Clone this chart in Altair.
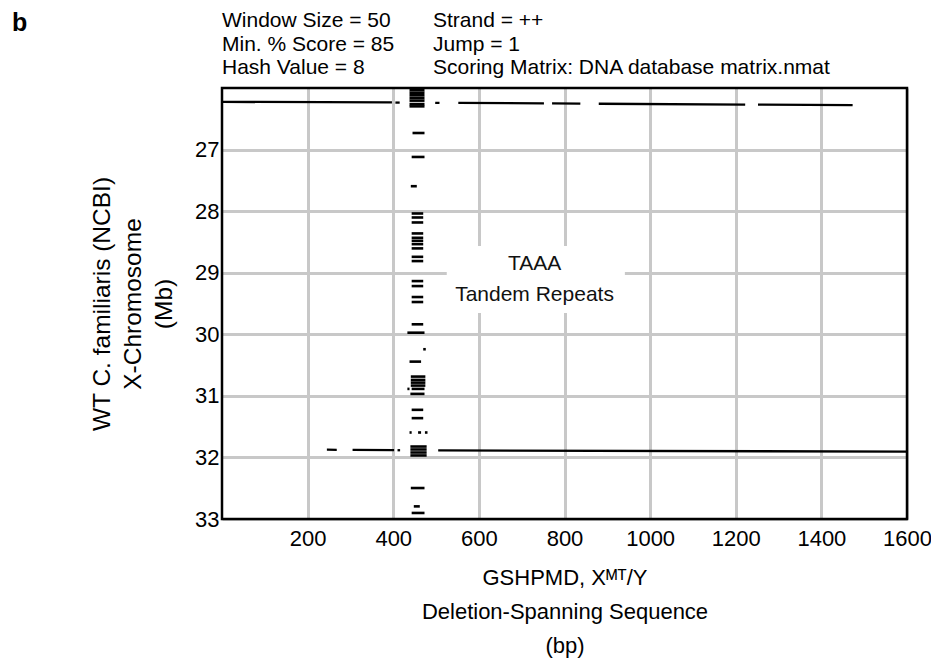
import altair as alt
import pandas as pd

FONT = "Liberation Sans"

# ---------------- data ----------------
# upper near-horizontal match line (bp start/end, Mb start/end)
top_x1 = [0, 405, 498, 552, 771, 880, 1252]
top_x2 = [397, 415, 508, 752, 837, 1222, 1473]
top_y1 = [26.225, 26.237, 26.240, 26.240, 26.251, 26.256, 26.271]
top_y2 = [26.235, 26.237, 26.242, 26.250, 26.254, 26.270, 26.278]

# lower near-horizontal match line
bot_x1 = [245, 305, 410, 505]
bot_x2 = [268, 402, 416, 1600]
bot_y1 = [31.874, 31.878, 31.883, 31.887]
bot_y2 = [31.876, 31.882, 31.883, 31.905]

# TAAA tandem-repeat dashes (vertical strip)
strip_y = [26.034, 26.076, 26.119, 26.163, 26.205, 26.261, 26.298,
           26.731, 27.120, 27.595,
           28.038, 28.103, 28.184, 28.362, 28.433, 28.482, 28.536, 28.605, 28.742, 28.811,
           29.136, 29.217, 29.395, 29.476, 29.838, 29.974,
           30.243, 30.444, 30.687, 30.741, 30.785, 30.833, 30.887, 30.887, 30.968,
           31.227, 31.362, 31.595, 31.595, 31.595,
           31.823, 31.871, 31.920, 31.968,
           32.497, 32.795, 32.902]
strip_x1 = [438, 438, 438, 438, 438, 438, 438,
            445, 443, 441,
            443, 443, 443, 443, 443, 443, 443, 443, 443, 443,
            443, 443, 443, 443, 443, 433,
            470, 438, 441, 441, 441, 441, 443, 433, 440,
            443, 443, 438, 458, 474,
            440, 440, 440, 440,
            441, 448, 443]
strip_x2 = [473, 473, 473, 473, 473, 473, 473,
            473, 473, 455,
            470, 470, 470, 470, 470, 470, 470, 470, 470, 470,
            470, 470, 470, 470, 470, 473,
            476, 465, 475, 475, 475, 475, 473, 438, 473,
            470, 470, 443, 465, 480,
            478, 478, 478, 478,
            473, 462, 473]

x_ticks = [200, 400, 600, 800, 1000, 1200, 1400, 1600]
y_ticks = [27, 28, 29, 30, 31, 32, 33]

header_left = ["Window Size = 50", "Min. % Score = 85", "Hash Value = 8"]
header_right = ["Strand = ++", "Jump = 1", "Scoring Matrix: DNA database matrix.nmat"]
panel_letter = "b"

x_title = ["GSHPMD, X\u1d39\u1d40/Y", "Deletion-Spanning Sequence", "(bp)"]
y_title = ["WT C. familiaris (NCBI)", "X-Chromosome", "(Mb)"]

note_text = ["TAAA", "Tandem Repeats"]
note_x = [730]
note_y = [28.86]
note_box_x = [525, 941]
note_box_y = [28.568, 29.654]

# ---------------- chart ----------------
W, H = 685, 431

xs = alt.Scale(domain=[0, 1600], nice=False, zero=False)
ys = alt.Scale(domain=[26.0, 33.0], reverse=True, nice=False, zero=False)

X_AX = alt.Axis(
    values=x_ticks, format="d", grid=True, ticks=False, domain=False,
    labelFlush=False, labelOverlap=False,
    labelFontSize=22, labelPadding=9, labelColor="black",
    title=x_title, titleFontSize=22, titleFontWeight="normal",
    titleColor="black", titlePadding=18, titleLineHeight=34)
Y_AX = alt.Axis(
    values=y_ticks, format="d", grid=True, ticks=False, domain=False,
    labelFlush=False, labelOverlap=False,
    labelFontSize=22, labelPadding=3, labelColor="black",
    title=y_title, titleFontSize=24.5, titleFontWeight="normal",
    titleColor="black", titlePadding=18, titleLineHeight=31)

lines_df = pd.DataFrame({
    "x1": top_x1 + bot_x1, "x2": top_x2 + bot_x2,
    "y1": top_y1 + bot_y1, "y2": top_y2 + bot_y2,
})
strip_df = pd.DataFrame({"x1": strip_x1, "x2": strip_x2, "y1": strip_y})
box_df = pd.DataFrame({"x1": [note_box_x[0]], "x2": [note_box_x[1]],
                       "y1": [note_box_y[0]], "y2": [note_box_y[1]]})
note_df = pd.DataFrame({"x": note_x, "y": note_y, "t": ["\n".join(note_text)]})

box = alt.Chart(box_df).mark_rect(fill="white").encode(
    x=alt.X("x1:Q", scale=xs, axis=X_AX), x2="x2:Q",
    y=alt.Y("y1:Q", scale=ys, axis=Y_AX), y2="y2:Q")

lines = alt.Chart(lines_df).mark_rule(color="black", strokeWidth=2.3, strokeCap="butt").encode(
    x=alt.X("x1:Q", scale=xs, axis=X_AX), x2="x2:Q",
    y=alt.Y("y1:Q", scale=ys, axis=Y_AX), y2="y2:Q")

strip = alt.Chart(strip_df).mark_rule(color="black", strokeWidth=2.6, strokeCap="butt").encode(
    x=alt.X("x1:Q", scale=xs, axis=X_AX), x2="x2:Q",
    y=alt.Y("y1:Q", scale=ys, axis=Y_AX))

note = alt.Chart(note_df).mark_text(
    font=FONT, fontSize=21, lineBreak="\n", lineHeight=31,
    align="center", baseline="middle", color="#111").encode(
    x=alt.X("x:Q", scale=xs, axis=X_AX),
    y=alt.Y("y:Q", scale=ys, axis=Y_AX), text="t:N")

hdr_l = alt.Chart(pd.DataFrame({"t": ["\n".join(header_left)]})).mark_text(
    font=FONT, fontSize=21, lineBreak="\n", lineHeight=23.5,
    align="left", baseline="top", color="black").encode(
    x=alt.value(0), y=alt.value(-78), text="t:N")

hdr_r = alt.Chart(pd.DataFrame({"t": ["\n".join(header_right)]})).mark_text(
    font=FONT, fontSize=21, lineBreak="\n", lineHeight=23.5,
    align="left", baseline="top", color="black").encode(
    x=alt.value(211), y=alt.value(-78), text="t:N")

letter = alt.Chart(pd.DataFrame({"t": [panel_letter]})).mark_text(
    font=FONT, fontSize=25, fontWeight="bold", align="left",
    baseline="middle", color="black").encode(
    x=alt.value(-210), y=alt.value(-65), text="t:N")

border = alt.Chart(pd.DataFrame({"a": [0]})).mark_rect(
    fillOpacity=0, stroke="black", strokeWidth=2.5).encode(
    x=alt.value(0), x2=alt.value(W), y=alt.value(0), y2=alt.value(H))

chart = alt.layer(box, lines, strip, note, hdr_l, hdr_r, letter, border).properties(
    width=W, height=H,
    autosize=alt.AutoSizeParams(type="none"),
    padding={"left": 222, "top": 88, "right": 24, "bottom": 143},
    background="white",
).configure_view(stroke=None).configure_axis(
    labelFont=FONT, titleFont=FONT, gridColor="#c8c8c8", gridWidth=3,
    gridOpacity=1,
)

chart.save("out.html", embed_options={"renderer": "svg", "actions": False})
